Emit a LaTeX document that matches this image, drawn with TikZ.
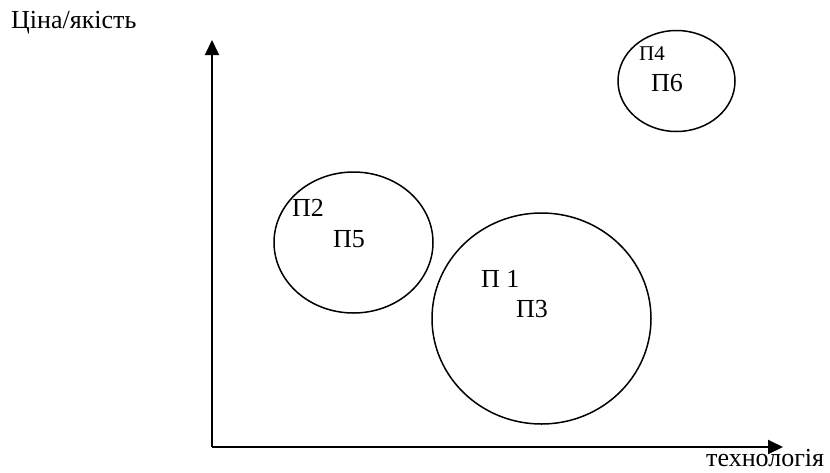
\documentclass[tikz,border=0pt]{standalone}
\usepackage{fontspec}
\setmainfont{Liberation Serif}
\usetikzlibrary{arrows.meta,shapes.geometric}
\begin{document}
\begin{tikzpicture}[x=1pt,y=-1pt,
  axis/.style={line width=2pt,-{Triangle[length=15pt,width=14pt]}},
  zone/.style={draw,ellipse,line width=1.5pt,inner sep=0pt},
  lbl/.style={anchor=base west,inner sep=0pt,font=\fontsize{26}{30}\selectfont},
  slbl/.style={anchor=base west,inner sep=0pt,font=\fontsize{21}{25}\selectfont}]
\useasboundingbox (0,0) rectangle (830,472);
\coordinate (O) at (212,447);
\coordinate (ytip) at (212,40);
\coordinate (xtip) at (783,447);
\draw[axis] (O) -- (ytip);
\draw[axis] (O) -- (xtip);
\node[lbl] (ylab) at (11,28) {Ціна/якість};
\node[lbl] (xlab) at (706,466.5) {технологія};
\node[zone,minimum width=117pt,minimum height=101pt] (c1) at (676.5,81) {};
\node[zone,minimum width=159pt,minimum height=141pt] (c2) at (353.5,242.5) {};
\node[zone,minimum width=219pt,minimum height=211pt] (c3) at (541.5,318.5) {};
\node[slbl] (p4) at (639,60) {П4};
\node[lbl] (p6) at (651,91) {П6};
\node[lbl] (p2) at (292,216) {П2};
\node[lbl] (p5) at (333,247) {П5};
\node[lbl] (p1) at (481,287) {П 1};
\node[lbl] (p3) at (516,317) {П3};
\end{tikzpicture}
\end{document}
